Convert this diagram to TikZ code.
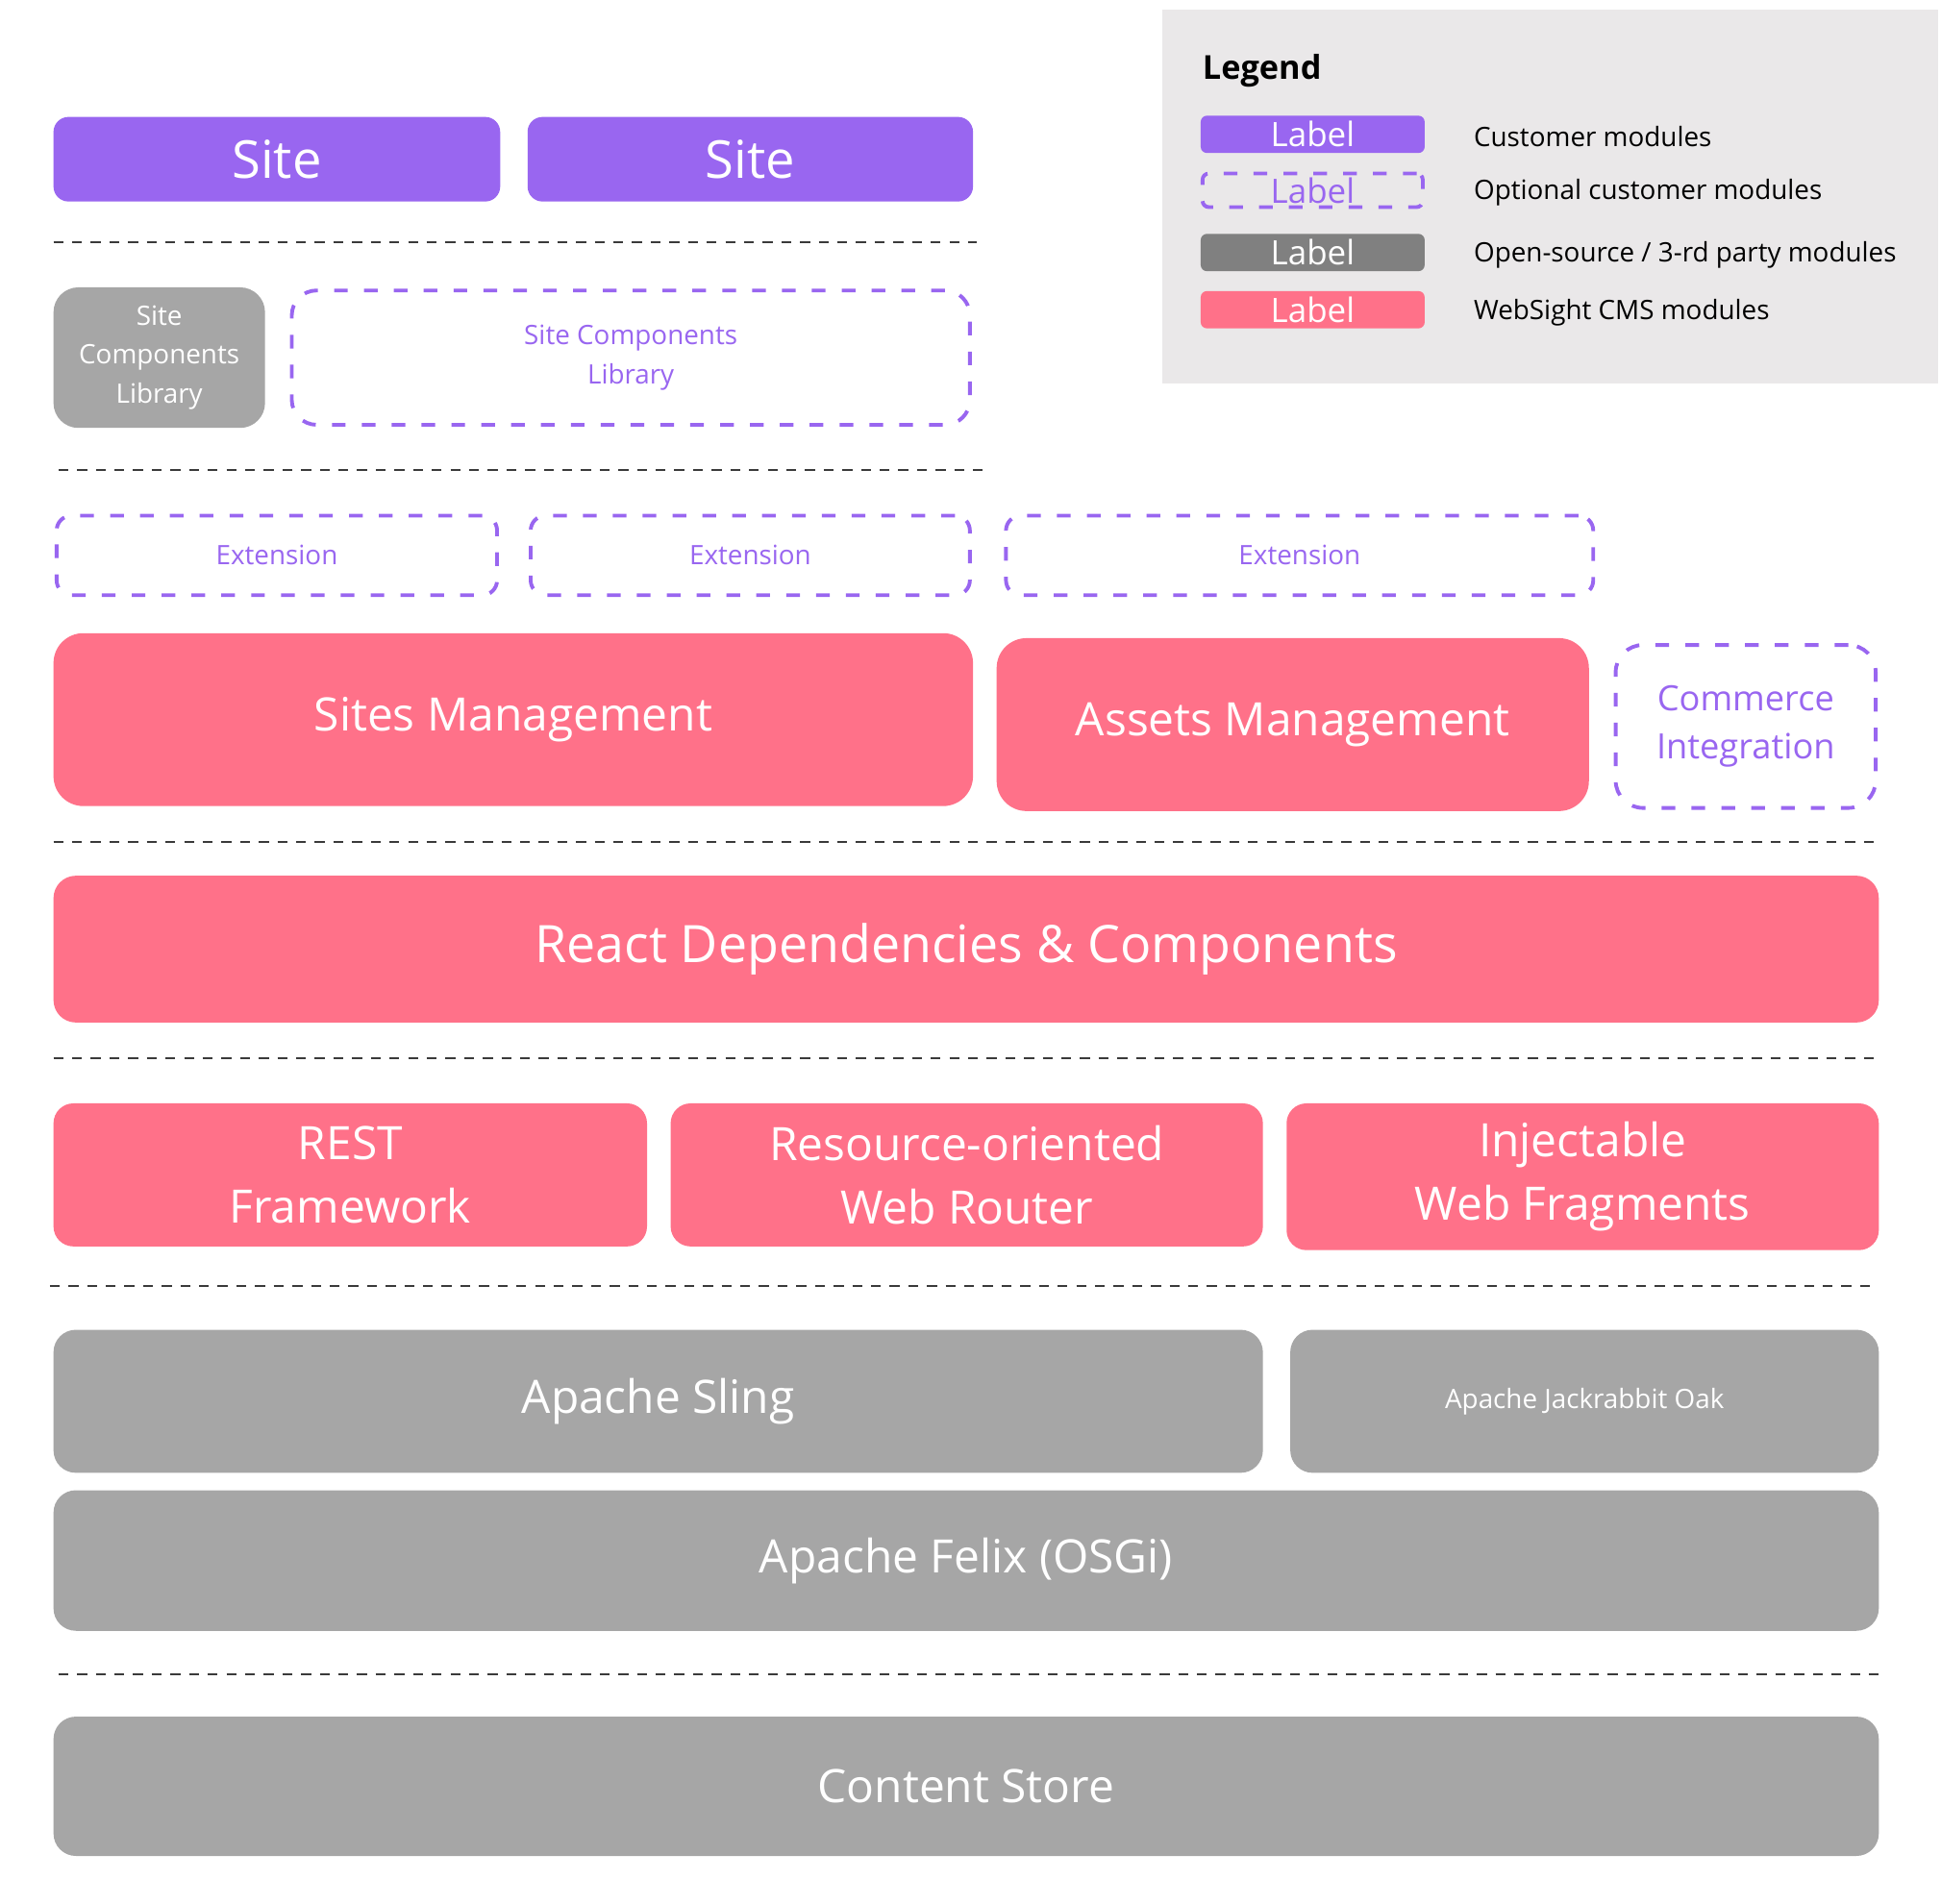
\documentclass[tikz,border=0pt]{standalone}
\usepackage{fontspec}
\setmainfont{Open Sans}
\definecolor{custpurple}{HTML}{9966F0}
\definecolor{cmspink}{HTML}{FF7189}
\definecolor{ossgray}{HTML}{A6A6A6}
\definecolor{legendgray}{HTML}{808080}
\definecolor{legendbg}{HTML}{EAE8E9}
\definecolor{sepgray}{HTML}{3A3A3A}

\begin{document}
\begin{tikzpicture}[x=1pt,y=-1pt,module/.style={rectangle,rounded corners=16pt,inner sep=0pt,text=white,align=center},customer node/.style={module,fill=custpurple},optional node/.style={module,draw=custpurple,line width=3pt,dash pattern=on 11pt off 13pt,text=custpurple},cms node/.style={module,fill=cmspink},oss node/.style={module,fill=ossgray},big text/.style={font=\fontsize{37}{51}\selectfont},small text/.style={font=\fontsize{21.5}{31}\selectfont}]
\tikzstyle{layer line} = [draw=sepgray,line width=1.5pt,dash pattern=on 8pt off 7pt]
\tikzstyle{legend box} = [rectangle,rounded corners=5pt,inner sep=0pt,minimum width=180pt,minimum height=30pt,text=white,font=\fontsize{27}{30}\selectfont]

\useasboundingbox (0,0) rectangle (1560,1530);

% Legend
\fill[legendbg] (934,8) rectangle (1558,308);
\node[anchor=west,font=\fontsize{26.5}{30}\selectfont\bfseries] (legend) at (963,57) {Legend};

\node[legend box,fill=custpurple] (lgcust) at (1055,108) {Label};
\node[legend box,draw=custpurple,line width=3pt,dash pattern=on 11pt off 13pt,text=custpurple,minimum width=177pt,minimum height=27pt] (lgopt) at (1055,153) {Label};
\node[legend box,fill=legendgray] (lgoss) at (1055,203) {Label};
\node[legend box,fill=cmspink] (lgcms) at (1055,249) {Label};

\node[anchor=west,font=\fontsize{21.5}{26}\selectfont] (lgcusttext) at (1181,110) {Customer modules};
\node[anchor=west,font=\fontsize{21.5}{26}\selectfont] (lgopttext) at (1181,155) {Optional customer modules};
\node[anchor=west,font=\fontsize{21.5}{26}\selectfont] (lgosstext) at (1181,205) {Open-source / 3-rd party modules};
\node[anchor=west,font=\fontsize{21.5}{26}\selectfont] (lgcmstext) at (1181,251) {WebSight CMS modules};

% Sites
\node[customer node,rounded corners=12pt,minimum width=359pt,minimum height=68pt,font=\fontsize{42}{48}\selectfont] (siteA) at (222.5,128) {Site};
\node[customer node,rounded corners=12pt,minimum width=358pt,minimum height=68pt,font=\fontsize{42}{48}\selectfont] (siteB) at (603,128) {Site};
\draw[layer line] (43,195) -- (785,195);

% Components libraries
\node[oss node,rounded corners=20pt,minimum width=170pt,minimum height=113pt,small text] (sclib) at (128,287.5) {Site\\Components\\Library};
\node[optional node,rounded corners=20pt,minimum width=545pt,minimum height=108pt,small text] (sclibopt) at (507,287.5) {Site Components\\Library};
\draw[layer line] (47,378) -- (790,378);

% Extensions
\node[optional node,rounded corners=12pt,minimum width=354pt,minimum height=64pt,small text] (extA) at (222.5,446.5) {Extension};
\node[optional node,rounded corners=12pt,minimum width=353pt,minimum height=64pt,small text] (extB) at (603,446.5) {Extension};
\node[optional node,rounded corners=12pt,minimum width=472pt,minimum height=64pt,small text] (extC) at (1044.5,446.5) {Extension};

% Management
\node[cms node,rounded corners=24pt,minimum width=739pt,minimum height=139pt,big text] (sitesmgmt) at (412.5,578.5) {Sites Management};
\node[cms node,rounded corners=24pt,minimum width=476pt,minimum height=139pt,big text] (assetsmgmt) at (1039,582.5) {Assets Management};
\node[optional node,rounded corners=22pt,minimum width=209pt,minimum height=131pt,font=\fontsize{28}{39}\selectfont] (commerce) at (1403,584) {Commerce\\Integration};
\draw[layer line] (43,677) -- (1508,677);

% React
\node[cms node,rounded corners=18pt,minimum width=1467pt,minimum height=118pt,font=\fontsize{41.5}{48}\selectfont] (react) at (776.5,763) {React Dependencies \& Components};
\draw[layer line] (43,851) -- (1508,851);

% Frameworks
\node[cms node,minimum width=477pt,minimum height=115pt,big text] (rest) at (281.5,944.5) {REST\\Framework};
\node[cms node,minimum width=476pt,minimum height=115pt,big text] (router) at (777,944.5) {Resource-oriented\\Web Router};
\node[cms node,minimum width=476pt,minimum height=118pt,big text] (fragments) at (1272,946) {Injectable\\Web Fragments};
\draw[layer line] (40,1034) -- (1505,1034);

% Platform
\node[oss node,rounded corners=18pt,minimum width=972pt,minimum height=115pt,big text] (sling) at (529,1126.5) {Apache Sling};
\node[oss node,rounded corners=18pt,minimum width=473pt,minimum height=115pt,small text] (oak) at (1273.5,1126.5) {Apache Jackrabbit Oak};
\node[oss node,rounded corners=18pt,minimum width=1467pt,minimum height=113pt,big text] (felix) at (776.5,1254.5) {Apache Felix (OSGi)};
\draw[layer line] (47,1346) -- (1510,1346);

% Storage
\node[oss node,rounded corners=18pt,minimum width=1467pt,minimum height=112pt,big text] (content) at (776.5,1436) {Content Store};

\end{tikzpicture}
\end{document}
